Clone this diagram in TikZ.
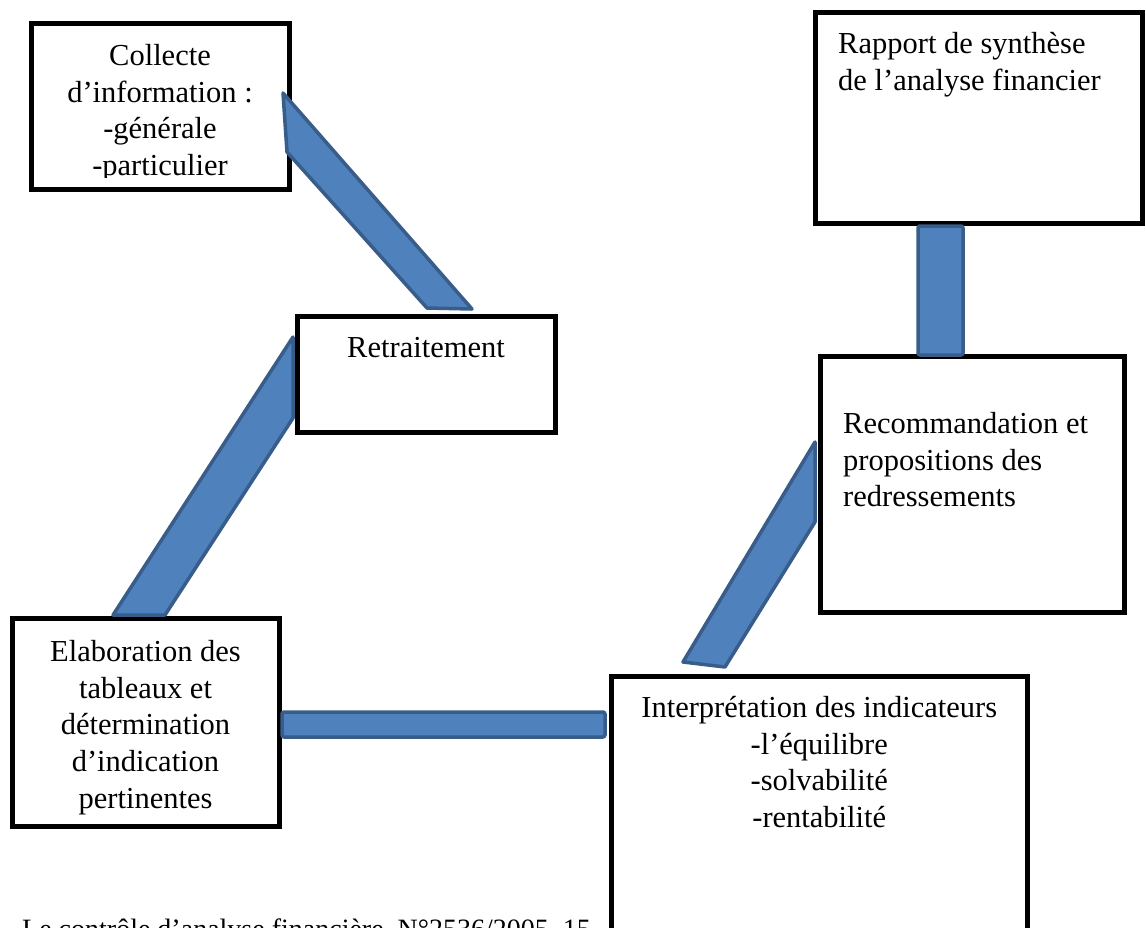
\documentclass[tikz,border=0pt]{standalone}
\usepackage{fontspec}
\setmainfont{Liberation Serif}
\definecolor{connfill}{HTML}{4F81BD}
\definecolor{connline}{HTML}{385D8A}
\begin{document}
\begin{tikzpicture}[x=1pt,y=-1pt,
  box/.style={draw=black, line width=5pt, rectangle, inner sep=0pt, outer sep=0pt, fill=white},
  txt/.style={inner sep=0pt, font=\fontsize{30.5}{36.7}\selectfont, anchor=north},
  conn/.style={fill=connfill, draw=connline, line width=3.5pt, line join=round}]
\useasboundingbox (0,0) rectangle (1146,927);

% boxes
\node[box, minimum width=258pt, minimum height=166pt] (collecte) at (160,106) {};
\node[box, minimum width=258pt, minimum height=116pt] (retrait) at (426,374) {};
\node[box, minimum width=267pt, minimum height=207.5pt] (elab) at (145.5,722.25) {};
\node[box, minimum width=415.5pt, minimum height=284pt] (interp) at (819.25,818) {};
\node[box, minimum width=304pt, minimum height=255.5pt] (recom) at (972,484.25) {};
\node[box, minimum width=326.5pt, minimum height=211pt] (rapport) at (978.75,118) {};

% texts
\begin{scope}
  \clip (31,23) rectangle (289,177);
  \node[txt, align=center] (tcollecte) at (160,44) {Collecte\\d’information :\\-générale\\-particulier};
\end{scope}
\node[txt] (tretrait) at (426,337) {Retraitement};
\node[txt, align=center] (telab) at (145.5,640) {Elaboration des\\tableaux et\\détermination\\d’indication\\pertinentes};
\node[txt, align=center] (tinterp) at (819.25,696) {Interprétation des indicateurs\\-l’équilibre\\-solvabilité\\-rentabilité};
\node[txt, anchor=north west, align=left] (trecom) at (843,412) {Recommandation et\\propositions des\\redressements};
\node[txt, anchor=north west, align=left] (trapport) at (838,32) {Rapport de synthèse\\de l’analyse financier};
\node[anchor=base west, inner sep=0pt, font=\fontsize{28}{33}\selectfont] (source) at (22,938.5) {Le contrôle d’analyse financière, N°2536/2005, 15};

% connector points
\coordinate (a1) at (283,93);  \coordinate (a2) at (472,309);
\coordinate (a3) at (427,308); \coordinate (a4) at (287,152);
\coordinate (b1) at (293,337); \coordinate (b2) at (293,418);
\coordinate (b3) at (165,615); \coordinate (b4) at (113,615);
\coordinate (c1) at (282,712); \coordinate (c2) at (605,737);
\coordinate (d1) at (815,442); \coordinate (d2) at (815,522);
\coordinate (d3) at (725,667); \coordinate (d4) at (683,662);
\coordinate (e1) at (918,226); \coordinate (e2) at (963,355);

% connectors
\draw[conn] (a1) -- (a2) -- (a3) -- (a4) -- cycle;
\draw[conn] (b1) -- (b2) -- (b3) -- (b4) -- cycle;
\draw[conn, rounded corners=2pt] (c1) rectangle (c2);
\draw[conn] (d1) -- (d2) -- (d3) -- (d4) -- cycle;
\draw[conn, rounded corners=2pt] (e1) rectangle (e2);
\end{tikzpicture}
\end{document}
